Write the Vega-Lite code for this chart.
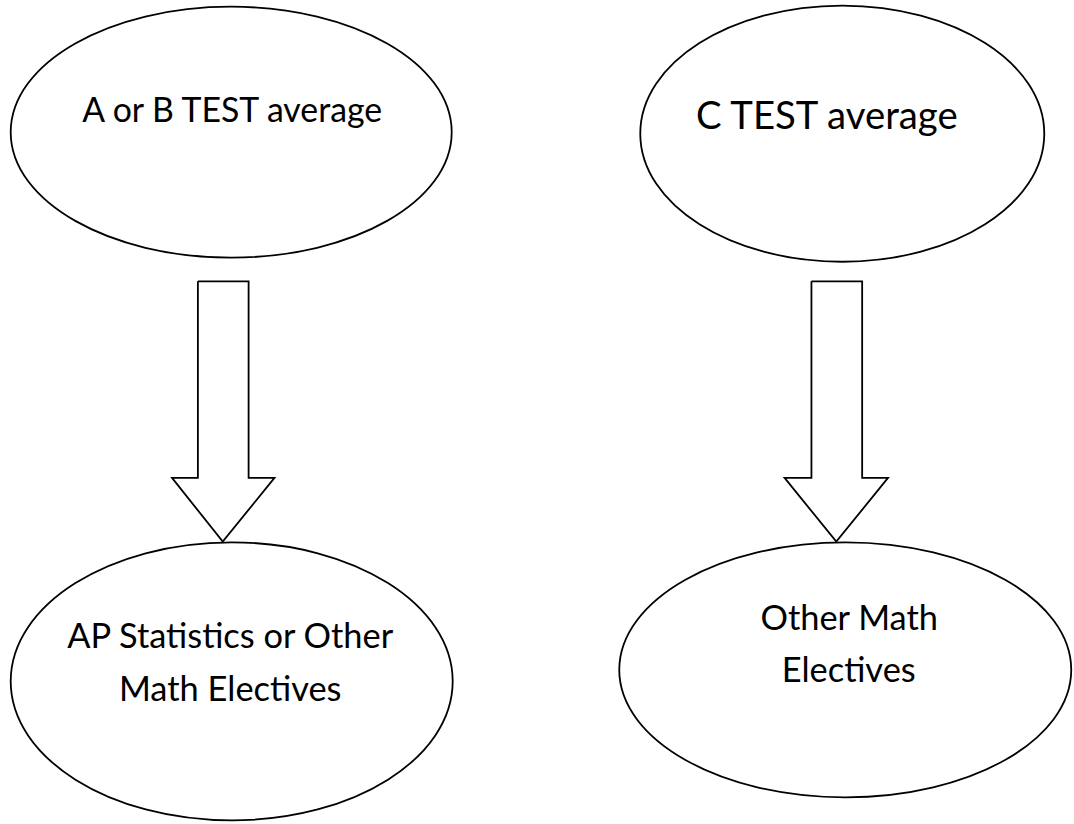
{
  "$schema": "https://vega.github.io/schema/vega-lite/v6.json",
  "autosize": {"type": "fit", "contains": "padding"},
  "width": 1074,
  "height": 824,
  "padding": 0,
  "background": "white",
  "config": {"view": {"stroke": null}},
  "datasets": {
    "ellipses": [
      {"id": "e1", "cx": 232.5, "cy": 132.5, "rx": 220.5},
      {"id": "e2", "cx": 847, "cy": 134, "rx": 202},
      {"id": "e3", "cx": 233, "cy": 683, "rx": 221},
      {"id": "e4", "cx": 850, "cy": 671.5, "rx": 226}
    ],
    "arrows": [
      {"arrow": "a1", "i": 1, "x": 199, "y": 282},
      {"arrow": "a1", "i": 2, "x": 250, "y": 282},
      {"arrow": "a1", "i": 3, "x": 250, "y": 479},
      {"arrow": "a1", "i": 4, "x": 276, "y": 479},
      {"arrow": "a1", "i": 5, "x": 224, "y": 543},
      {"arrow": "a1", "i": 6, "x": 173, "y": 479},
      {"arrow": "a1", "i": 7, "x": 199, "y": 479},
      {"arrow": "a1", "i": 8, "x": 199, "y": 282},
      {"arrow": "a2", "i": 1, "x": 816, "y": 282},
      {"arrow": "a2", "i": 2, "x": 867, "y": 282},
      {"arrow": "a2", "i": 3, "x": 867, "y": 479},
      {"arrow": "a2", "i": 4, "x": 893, "y": 479},
      {"arrow": "a2", "i": 5, "x": 841, "y": 543},
      {"arrow": "a2", "i": 6, "x": 789, "y": 479},
      {"arrow": "a2", "i": 7, "x": 816, "y": 479},
      {"arrow": "a2", "i": 8, "x": 816, "y": 282}
    ],
    "labels": [
      {"id": "t1", "x": 233.5, "y": 122, "label": "A or B TEST average"},
      {"id": "t2", "x": 831.5, "y": 129, "label": "C TEST average"},
      {"id": "t3", "x": 231.5, "y": 650, "label": "AP Statistics or Other"},
      {"id": "t3", "x": 231.5, "y": 703, "label": "Math Electives"},
      {"id": "t4", "x": 854, "y": 632, "label": "Other Math"},
      {"id": "t4", "x": 853.5, "y": 684, "label": "Electives"}
    ]
  },
  "encoding": {
    "x": {"field": "x", "type": "quantitative", "scale": {"domain": [0, 1074], "nice": false, "zero": false}, "axis": null},
    "y": {"field": "y", "type": "quantitative", "scale": {"domain": [0, 824], "reverse": true, "nice": false, "zero": false}, "axis": null}
  },
  "layer": [
    {
      "data": {"name": "ellipses"},
      "transform": [{"filter": "datum.id === 'e1'"}],
      "mark": {"type": "point", "filled": false, "stroke": "black", "strokeWidth": 1.8, "opacity": 1,
        "shape": "M -1 0 C -1 -0.3143 -0.5523 -0.569 0 -0.569 C 0.5523 -0.569 1 -0.3143 1 0 C 1 0.3143 0.5523 0.569 0 0.569 C -0.5523 0.569 -1 0.3143 -1 0 Z"},
      "encoding": {
        "x": {"field": "cx", "type": "quantitative"},
        "y": {"field": "cy", "type": "quantitative"},
        "size": {"field": "rx", "type": "quantitative", "scale": {"type": "pow", "exponent": 2, "domain": [0, 250], "range": [0, 250000]}, "legend": null}
      }
    },
    {
      "data": {"name": "ellipses"},
      "transform": [{"filter": "datum.id === 'e2'"}],
      "mark": {"type": "point", "filled": false, "stroke": "black", "strokeWidth": 1.8, "opacity": 1,
        "shape": "M -1 0 C -1 -0.3502 -0.5523 -0.634 0 -0.634 C 0.5523 -0.634 1 -0.3502 1 0 C 1 0.3502 0.5523 0.634 0 0.634 C -0.5523 0.634 -1 0.3502 -1 0 Z"},
      "encoding": {
        "x": {"field": "cx", "type": "quantitative"},
        "y": {"field": "cy", "type": "quantitative"},
        "size": {"field": "rx", "type": "quantitative", "scale": {"type": "pow", "exponent": 2, "domain": [0, 250], "range": [0, 250000]}, "legend": null}
      }
    },
    {
      "data": {"name": "ellipses"},
      "transform": [{"filter": "datum.id === 'e3'"}],
      "mark": {"type": "point", "filled": false, "stroke": "black", "strokeWidth": 1.8, "opacity": 1,
        "shape": "M -1 0 C -1 -0.3474 -0.5523 -0.629 0 -0.629 C 0.5523 -0.629 1 -0.3474 1 0 C 1 0.3474 0.5523 0.629 0 0.629 C -0.5523 0.629 -1 0.3474 -1 0 Z"},
      "encoding": {
        "x": {"field": "cx", "type": "quantitative"},
        "y": {"field": "cy", "type": "quantitative"},
        "size": {"field": "rx", "type": "quantitative", "scale": {"type": "pow", "exponent": 2, "domain": [0, 250], "range": [0, 250000]}, "legend": null}
      }
    },
    {
      "data": {"name": "ellipses"},
      "transform": [{"filter": "datum.id === 'e4'"}],
      "mark": {"type": "point", "filled": false, "stroke": "black", "strokeWidth": 1.8, "opacity": 1,
        "shape": "M -1 0 C -1 -0.3115 -0.5523 -0.564 0 -0.564 C 0.5523 -0.564 1 -0.3115 1 0 C 1 0.3115 0.5523 0.564 0 0.564 C -0.5523 0.564 -1 0.3115 -1 0 Z"},
      "encoding": {
        "x": {"field": "cx", "type": "quantitative"},
        "y": {"field": "cy", "type": "quantitative"},
        "size": {"field": "rx", "type": "quantitative", "scale": {"type": "pow", "exponent": 2, "domain": [0, 250], "range": [0, 250000]}, "legend": null}
      }
    },
    {
      "data": {"name": "arrows"},
      "mark": {"type": "line", "stroke": "black", "strokeWidth": 1.8, "strokeJoin": "miter", "interpolate": "linear"},
      "encoding": {
        "detail": {"field": "arrow", "type": "nominal"},
        "order": {"field": "i", "type": "quantitative"}
      }
    },
    {
      "data": {"name": "labels"},
      "transform": [{"filter": "datum.id === 't1'"}],
      "mark": {"type": "text", "font": "Lato", "fontSize": 33.8, "align": "center", "baseline": "alphabetic", "color": "black"},
      "encoding": {"text": {"field": "label", "type": "nominal"}}
    },
    {
      "data": {"name": "labels"},
      "transform": [{"filter": "datum.id === 't3' || datum.id === 't4'"}],
      "mark": {"type": "text", "font": "Lato", "fontSize": 34.4, "align": "center", "baseline": "alphabetic", "color": "black"},
      "encoding": {"text": {"field": "label", "type": "nominal"}}
    },
    {
      "data": {"name": "labels"},
      "transform": [{"filter": "datum.id === 't2'"}],
      "mark": {"type": "text", "font": "Lato", "fontSize": 38.3, "align": "center", "baseline": "alphabetic", "color": "black"},
      "encoding": {"text": {"field": "label", "type": "nominal"}}
    }
  ]
}
